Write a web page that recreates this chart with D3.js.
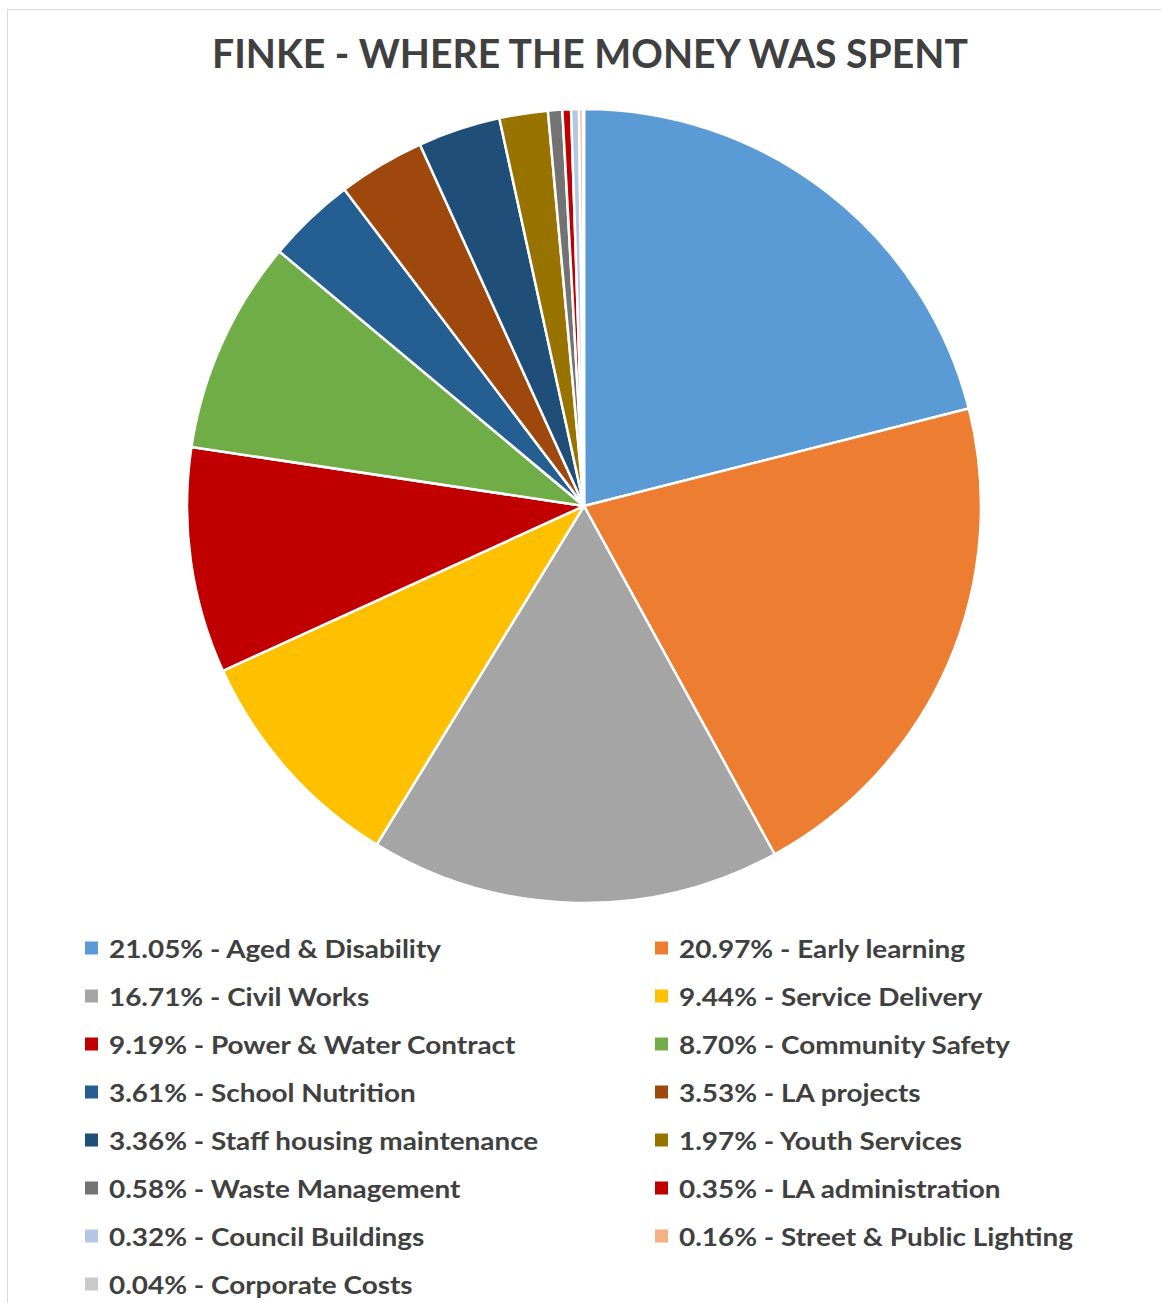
<!DOCTYPE html>
<html><head><meta charset="utf-8">
<script src="https://cdn.jsdelivr.net/npm/d3@7"></script>
<style>body{margin:0;background:#fff}svg{display:block}</style>
</head><body>
<script>
const categories = ["Aged & Disability","Early learning","Civil Works","Service Delivery","Power & Water Contract","Community Safety","School Nutrition","LA projects","Staff housing maintenance","Youth Services","Waste Management","LA administration","Council Buildings","Street & Public Lighting","Corporate Costs"];
const values = [21.05,20.97,16.71,9.44,9.19,8.70,3.61,3.53,3.36,1.97,0.58,0.35,0.32,0.16,0.04];
const colors = ["#5B9BD5","#ED7D31","#A5A5A5","#FFC000","#C00000","#70AD47","#255E91","#9E480E","#1F4E79","#997300","#737373","#C00000","#B4C7E7","#F4B183","#C9C9C9"];
const title = "FINKE - WHERE THE MONEY WAS SPENT";

const W=1161,H=1303;
const svg=d3.select("body").append("svg").attr("width",W).attr("height",H);
svg.append("rect").attr("x",7.5).attr("y",9.5).attr("width",W).attr("height",H).attr("fill","#fff").attr("stroke","#d9d9d9").attr("stroke-width",1);

const font="Lato, 'Open Sans', sans-serif";
const t=svg.append("text").attr("x",590).attr("y",68).attr("text-anchor","middle")
  .attr("font-family",font).attr("font-weight","bold").attr("font-size",40).attr("fill","#404040").text(title);
t.attr("textLength",756).attr("lengthAdjust","spacingAndGlyphs");

const cx=584,cy=506,r=397;
const pie=d3.pie().sort(null).value(d=>d)(values);
const arc=d3.arc().innerRadius(0).outerRadius(r);
svg.append("g").attr("transform",`translate(${cx},${cy})`).selectAll("path").data(pie).join("path")
  .attr("d",arc).attr("fill",(d,i)=>colors[i]).attr("stroke","#fff").attr("stroke-width",2.5).attr("stroke-linejoin","round");

const fmt=d3.format(".2f");
const lg=svg.append("g");
const items=lg.selectAll("g").data(categories).join("g")
  .attr("transform",(d,i)=>`translate(${i%2===0?85:655},${948+Math.floor(i/2)*48})`);
items.append("rect").attr("x",0).attr("y",-6.5).attr("width",13).attr("height",13).attr("fill",(d,i)=>colors[i]);
const texts=items.append("text").attr("x",24).attr("y",9.5).attr("font-family",font).attr("font-weight","bold")
  .attr("font-size",24).attr("fill","#404040").text((d,i)=>fmt(values[i])+"% - "+d);
const w0=texts.node().getComputedTextLength();
const k=332/w0;
texts.each(function(){const w=this.getComputedTextLength();d3.select(this).attr("textLength",w*k).attr("lengthAdjust","spacingAndGlyphs");});
</script>
</body></html>
